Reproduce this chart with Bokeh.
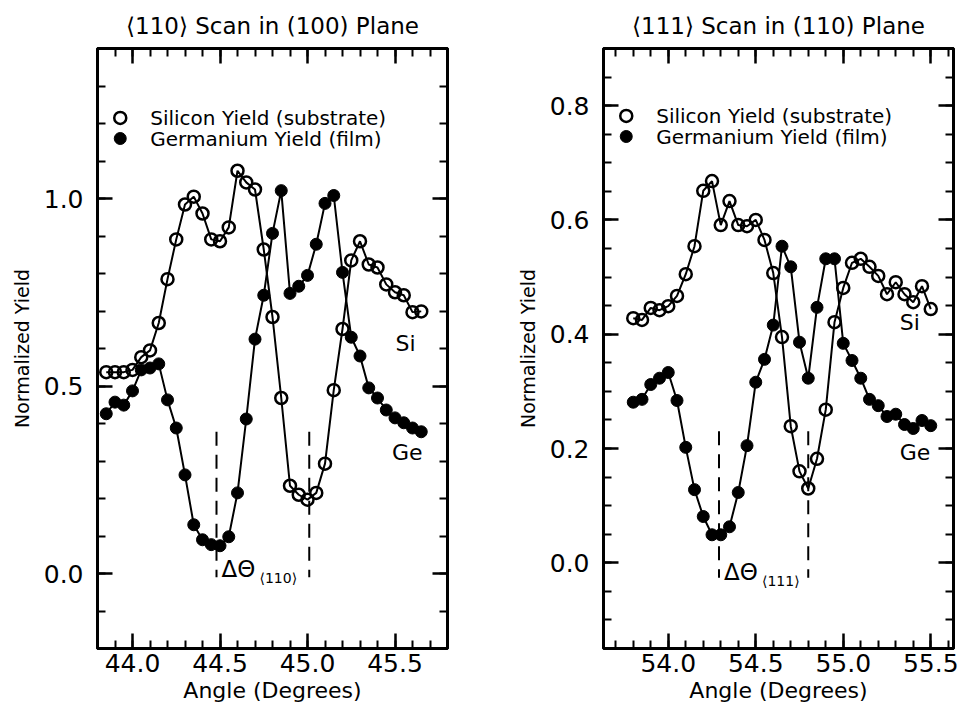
from bokeh.plotting import figure
from bokeh.layouts import row
from bokeh.models import LinearAxis, SingleIntervalTicker, Range1d, CustomJSTickFormatter
from bokeh.embed import file_html
from bokeh.resources import INLINE
from bokeh.core.properties import value

FONT = "DejaVu Sans"

# ---------------- data: <110> scan in (100) plane ----------------
angle_110 = [43.85, 43.90, 43.95, 44.00, 44.05, 44.10, 44.15, 44.20, 44.25, 44.30,
             44.35, 44.40, 44.45, 44.50, 44.55, 44.60, 44.65, 44.70, 44.75, 44.80,
             44.85, 44.90, 44.95, 45.00, 45.05, 45.10, 45.15, 45.20, 45.25, 45.30,
             45.35, 45.40, 45.45, 45.50, 45.55, 45.60, 45.65]
si_110 = [0.537, 0.537, 0.537, 0.543, 0.577, 0.595, 0.668, 0.785, 0.891, 0.984,
          1.005, 0.960, 0.891, 0.886, 0.923, 1.074, 1.043, 1.024, 0.864, 0.684,
          0.468, 0.234, 0.210, 0.197, 0.215, 0.293, 0.489, 0.652, 0.835, 0.886,
          0.824, 0.816, 0.771, 0.750, 0.742, 0.697, 0.699]
ge_110 = [0.426, 0.457, 0.449, 0.487, 0.543, 0.548, 0.559, 0.463, 0.388, 0.263,
          0.130, 0.090, 0.077, 0.074, 0.098, 0.215, 0.412, 0.625, 0.742, 0.907,
          1.021, 0.747, 0.766, 0.795, 0.878, 0.987, 1.008, 0.803, 0.630, 0.580,
          0.495, 0.468, 0.436, 0.415, 0.402, 0.388, 0.378]
delta_110 = [44.48, 45.01]

# ---------------- data: <111> scan in (110) plane ----------------
angle_111 = [53.80, 53.85, 53.90, 53.95, 54.00, 54.05, 54.10, 54.15, 54.20, 54.25,
             54.30, 54.35, 54.40, 54.45, 54.50, 54.55, 54.60, 54.65, 54.70, 54.75,
             54.80, 54.85, 54.90, 54.95, 55.00, 55.05, 55.10, 55.15, 55.20, 55.25,
             55.30, 55.35, 55.40, 55.45, 55.50]
si_111 = [0.428, 0.425, 0.446, 0.442, 0.449, 0.467, 0.505, 0.554, 0.651, 0.668,
          0.591, 0.633, 0.591, 0.589, 0.600, 0.565, 0.507, 0.395, 0.239, 0.160,
          0.130, 0.182, 0.268, 0.421, 0.481, 0.525, 0.532, 0.518, 0.502, 0.470,
          0.491, 0.470, 0.456, 0.484, 0.444]
ge_111 = [0.281, 0.286, 0.312, 0.323, 0.333, 0.284, 0.202, 0.128, 0.081, 0.049,
          0.049, 0.063, 0.123, 0.205, 0.316, 0.356, 0.416, 0.554, 0.518, 0.386,
          0.323, 0.447, 0.532, 0.532, 0.384, 0.354, 0.323, 0.286, 0.275, 0.256,
          0.260, 0.242, 0.235, 0.249, 0.240]
delta_111 = [54.29, 54.80]

titles = ["\u27e8110\u27e9 Scan in (100) Plane", "\u27e8111\u27e9 Scan in (110) Plane"]
subscripts = ["\u27e8110\u27e9", "\u27e8111\u27e9"]
legend_labels = ["Silicon Yield (substrate)", "Germanium Yield (film)"]
x_label = "Angle (Degrees)"
y_label = "Normalized Yield"


def make_panel(x, si, ge, delta, title, sub, xr, yr, ymaj, ymin_n, width,
               border_left, border_right, dash_y, leg_x, leg_y, si_pos, ge_pos):
    p = figure(width=width, height=716, x_range=Range1d(*xr), y_range=Range1d(*yr),
               output_backend="svg", toolbar_location=None, title=title,
               min_border_left=border_left, min_border_right=border_right,
               min_border_top=48, min_border_bottom=68)
    p.title.text_font = FONT
    p.title.text_font_size = "23px"
    p.title.text_font_style = "normal"
    p.title.text_color = "black"
    p.title.align = "center"
    p.title.standoff = 20
    p.xgrid.visible = False
    p.ygrid.visible = False
    p.outline_line_color = "black"
    p.outline_line_width = 3
    p.background_fill_color = "white"
    p.border_fill_color = "white"

    xt = SingleIntervalTicker(interval=0.5, num_minor_ticks=5)
    yt = SingleIntervalTicker(interval=ymaj, num_minor_ticks=ymin_n)
    p.xaxis.ticker = xt
    p.yaxis.ticker = yt
    p.xaxis.axis_label = x_label
    p.yaxis.axis_label = y_label
    for ax in [p.xaxis[0], p.yaxis[0]]:
        ax.axis_line_width = 3
        ax.major_tick_in = 15
        ax.major_tick_out = 0
        ax.minor_tick_in = 8
        ax.minor_tick_out = 0
        ax.major_tick_line_width = 2.5
        ax.minor_tick_line_width = 2
        ax.major_label_text_font = FONT
        ax.major_label_text_font_size = "25px"
        ax.major_label_text_color = "black"
        ax.axis_label_text_font = FONT
        ax.axis_label_text_font_style = "normal"
        ax.axis_label_text_color = "black"
    p.xaxis.axis_label_text_font_size = "22px"
    p.yaxis.axis_label_text_font_size = "19px"
    p.xaxis.major_label_standoff = 5
    p.xaxis.axis_label_standoff = 3
    p.yaxis.major_label_standoff = 14
    p.yaxis.axis_label_standoff = 8
    p.yaxis.formatter = CustomJSTickFormatter(code="return tick.toFixed(1);")
    p.xaxis.formatter = CustomJSTickFormatter(code="return tick.toFixed(1);")

    empty = CustomJSTickFormatter(code="return '';")
    top = LinearAxis(ticker=SingleIntervalTicker(interval=0.5, num_minor_ticks=5), formatter=empty)
    right = LinearAxis(ticker=SingleIntervalTicker(interval=ymaj, num_minor_ticks=ymin_n), formatter=empty)
    for ax in [top, right]:
        ax.axis_line_width = 3
        ax.major_tick_in = 15
        ax.major_tick_out = 0
        ax.minor_tick_in = 8
        ax.minor_tick_out = 0
        ax.major_tick_line_width = 2.5
        ax.minor_tick_line_width = 2
        ax.major_label_standoff = 0
        ax.major_label_text_font_size = "1px"
    p.add_layout(top, "above")
    p.add_layout(right, "right")

    # data
    p.line(x, si, line_color="black", line_width=2)
    p.line(x, ge, line_color="black", line_width=2)
    p.scatter(x, si, marker="circle", size=12, fill_color=None, line_color="black", line_width=2.5)
    p.scatter(x, ge, marker="circle", size=12, fill_color="black", line_color="black", line_width=1)

    # delta theta markers
    p.segment(x0=delta, y0=[dash_y[0]] * 2, x1=delta, y1=[dash_y[1]] * 2,
              line_color="black", line_width=2, line_dash="14 9")
    p.text(x=[delta[0]], y=[dash_y[2]], text=["\u0394\u0398"], x_offset=5,
           text_font=value(FONT), text_font_size="23px", text_baseline="middle",
           text_align="left", text_color="black")
    p.text(x=[delta[0]], y=[dash_y[2]], text=[sub], x_offset=43, y_offset=9,
           text_font=value(FONT), text_font_size="14px", text_baseline="middle",
           text_align="left", text_color="black")

    # legend
    p.scatter([leg_x], [leg_y[0]], marker="circle", size=12, fill_color=None,
              line_color="black", line_width=2.5)
    p.scatter([leg_x], [leg_y[1]], marker="circle", size=12, fill_color="black",
              line_color="black")
    p.text(x=[leg_x, leg_x], y=leg_y, text=legend_labels, x_offset=30,
           text_font=value(FONT), text_font_size="20px", text_baseline="middle",
           text_align="left", text_color="black")

    # series labels
    p.text(x=[si_pos[0], ge_pos[0]], y=[si_pos[1], ge_pos[1]], text=["Si", "Ge"],
           text_font=value(FONT), text_font_size="22px", text_baseline="middle",
           text_align="center", text_color="black")
    return p


p1 = make_panel(angle_110, si_110, ge_110, delta_110, titles[0], subscripts[0],
                (43.8, 45.8), (-0.2, 1.4), 0.5, 5, 500, 97, 53,
                (0.378, -0.01, 0.012), 43.93, [1.215, 1.16],
                (45.56, 0.614), (45.57, 0.322))
p2 = make_panel(angle_111, si_111, ge_111, delta_111, titles[1], subscripts[1],
                (53.63, 55.63), (-0.15, 0.9), 0.2, 4, 473, 103, 20,
                (0.23, -0.026, -0.016), 53.76, [0.782, 0.746],
                (55.38, 0.421), (55.41, 0.193))

layout = row(p1, p2)
open("out.html", "w").write(file_html(layout, INLINE))
